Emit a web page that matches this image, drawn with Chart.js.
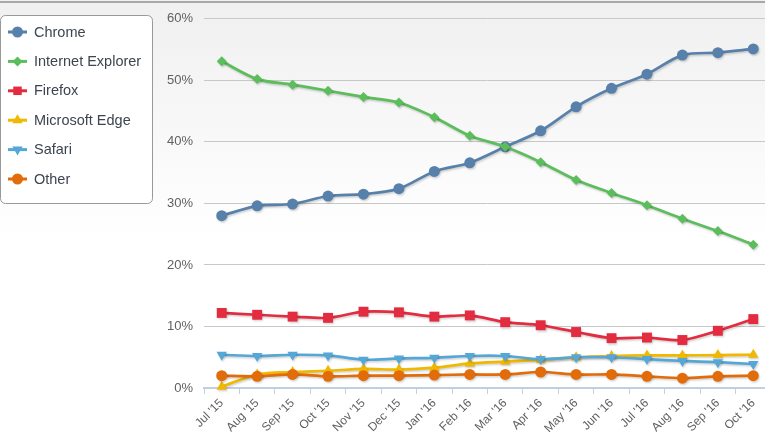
<!DOCTYPE html>
<html>
<head>
<meta charset="utf-8">
<script src="https://cdn.jsdelivr.net/npm/chart.js@4.4.1/dist/chart.umd.min.js"></script>
<style>
    html, body { margin: 0; padding: 0; overflow: hidden; background: #fff; }
    #wrap { width: 772px; height: 435px; overflow: hidden; }
    #chartNavigateurs { width: 772px; height: 435px; display: block; }
</style>
</head>
<body>
<div id="wrap"><canvas id="chartNavigateurs" width="772" height="435"></canvas></div>
<script>
// Mois (axe X)
const mois = ["Jul '15", "Aug '15", "Sep '15", "Oct '15", "Nov '15", "Dec '15", "Jan '16", "Feb '16",
              "Mar '16", "Apr '16", "May '16", "Jun '16", "Jul '16", "Aug '16", "Sep '16", "Oct '16"];

// Parts de marché (%)
const chrome  = [28.0, 29.6, 29.9, 31.2, 31.5, 32.4, 35.2, 36.6, 39.2, 41.8, 45.7, 48.7, 51.0, 54.1, 54.5, 55.1];
const ie      = [53.1, 50.2, 49.3, 48.3, 47.3, 46.4, 44.0, 41.0, 39.2, 36.7, 33.8, 31.7, 29.7, 27.5, 25.5, 23.3];
const firefox = [12.2, 11.9, 11.6, 11.4, 12.4, 12.3, 11.6, 11.8, 10.7, 10.2, 9.1, 8.1, 8.2, 7.8, 9.3, 11.2];
const edge    = [0.2, 2.2, 2.6, 2.8, 3.1, 3.0, 3.3, 4.0, 4.3, 4.6, 5.0, 5.2, 5.3, 5.3, 5.35, 5.4];
const safari  = [5.4, 5.2, 5.4, 5.3, 4.6, 4.8, 4.9, 5.2, 5.2, 4.7, 5.0, 5.0, 4.7, 4.4, 4.2, 3.9];
const other   = [2.0, 1.9, 2.2, 1.9, 2.0, 2.0, 2.1, 2.2, 2.2, 2.6, 2.2, 2.2, 1.9, 1.6, 1.9, 2.0];

// Ticks de l'axe Y
const yTicks = [0, 10, 20, 30, 40, 50, 60];

const police = "'Liberation Sans', Arial, sans-serif";

function serie(label, data, couleur, style, rayon, rotation, index) {
    return {
        label: label,
        data: data,
        borderColor: couleur,
        backgroundColor: couleur,
        pointBackgroundColor: couleur,
        pointBorderColor: couleur,
        pointBorderWidth: 0,
        pointStyle: style,
        pointRadius: rayon,
        pointHoverRadius: rayon,
        pointRotation: rotation,
        borderWidth: 2.7,
        tension: 0.3,
        clip: false,
        order: 6 - index // les dernières séries dessinées au-dessus
    };
}

// Fond dégradé + trait du haut
const fondPlugin = {
    id: 'fond',
    beforeDraw(chart) {
        const ctx = chart.ctx;
        const g = ctx.createLinearGradient(0, 3, 0, 240);
        g.addColorStop(0, '#f0f0f0');
        g.addColorStop(1, '#ffffff');
        ctx.save();
        ctx.fillStyle = g;
        ctx.fillRect(0, 0, chart.width, chart.height);
        ctx.fillStyle = '#a8a8a8';
        ctx.fillRect(0, 1, chart.width, 2);
        ctx.restore();
    }
};

// Ombre légère sous les courbes
const ombrePlugin = {
    id: 'ombre',
    beforeDatasetDraw(chart) {
        const ctx = chart.ctx;
        ctx.save();
        ctx.shadowColor = 'rgba(0,0,0,0.18)';
        ctx.shadowOffsetX = 1;
        ctx.shadowOffsetY = 1.5;
        ctx.shadowBlur = 2;
    },
    afterDatasetDraw(chart) {
        chart.ctx.restore();
    }
};

// Légende dans un cadre arrondi à gauche
const legendePlugin = {
    id: 'legendeCadre',
    afterDraw(chart) {
        const ctx = chart.ctx;
        ctx.save();
        ctx.beginPath();
        ctx.roundRect(0.5, 15.5, 152, 188, 5);
        ctx.fillStyle = '#ffffff';
        ctx.fill();
        ctx.strokeStyle = '#999999';
        ctx.lineWidth = 1;
        ctx.stroke();

        chart.data.datasets.forEach((ds, i) => {
            const y = 32 + i * 29.4;
            ctx.strokeStyle = ds.borderColor;
            ctx.lineWidth = 3;
            ctx.beginPath();
            ctx.moveTo(8, y);
            ctx.lineTo(27, y);
            ctx.stroke();
            ctx.fillStyle = ds.borderColor;
            Chart.helpers.drawPoint(ctx, {
                pointStyle: ds.pointStyle,
                radius: Math.min(ds.pointRadius, 6),
                rotation: ds.pointRotation,
                borderWidth: 0
            }, 17.5, y);
            ctx.fillStyle = '#3d4550';
            ctx.font = '14.5px ' + police;
            ctx.textBaseline = 'middle';
            ctx.textAlign = 'left';
            ctx.fillText(ds.label, 34, y + 0.5);
        });
        ctx.restore();
    }
};

const canvas = document.getElementById('chartNavigateurs');

new Chart(canvas, {
    type: 'line',
    data: {
        labels: mois,
        datasets: [
            serie('Chrome', chrome, '#5781ab', 'circle', 5.5, 0, 0),
            serie('Internet Explorer', ie, '#5cbd5c', 'rectRot', 5, 0, 1),
            serie('Firefox', firefox, '#e32c40', 'rect', 7, 0, 2),
            serie('Microsoft Edge', edge, '#f0b800', 'triangle', 6, 0, 3),
            serie('Safari', safari, '#55a7d8', 'triangle', 6, 180, 4),
            serie('Other', other, '#e26b0a', 'circle', 5.5, 0, 5)
        ]
    },
    options: {
        responsive: false,
        devicePixelRatio: 1,
        animation: false,
        layout: {
            autoPadding: false,
            padding: { left: 150, top: 15, right: 1, bottom: 0 }
        },
        plugins: {
            legend: { display: false },
            tooltip: { enabled: false }
        },
        scales: {
            x: {
                offset: true,
                grid: {
                    offset: true,
                    drawOnChartArea: false,
                    drawTicks: true,
                    tickLength: 6,
                    color: '#c0d0e0'
                },
                border: { color: '#c0d0e0', width: 2 },
                ticks: {
                    autoSkip: false,
                    maxRotation: 45,
                    minRotation: 45,
                    color: '#606060',
                    padding: 2,
                    font: { size: 12, family: police }
                },
                afterFit(scale) {
                    scale.height = 47;
                    scale.paddingLeft = 0;
                    scale.paddingRight = 0;
                }
            },
            y: {
                min: yTicks[0],
                max: yTicks[yTicks.length - 1],
                afterBuildTicks(scale) {
                    scale.ticks = yTicks.map(v => ({ value: v }));
                },
                grid: {
                    drawTicks: false,
                    color: (c) => c.tick && c.tick.value === 0 ? 'rgba(0,0,0,0)' : '#c8c8c8'
                },
                border: { display: false },
                ticks: {
                    padding: 11,
                    color: '#606060',
                    font: { size: 13, family: police },
                    callback: (v) => v + '%'
                },
                afterFit(scale) { scale.width = 54; }
            }
        }
    },
    plugins: [fondPlugin, ombrePlugin, legendePlugin]
});
</script>
</body>
</html>
